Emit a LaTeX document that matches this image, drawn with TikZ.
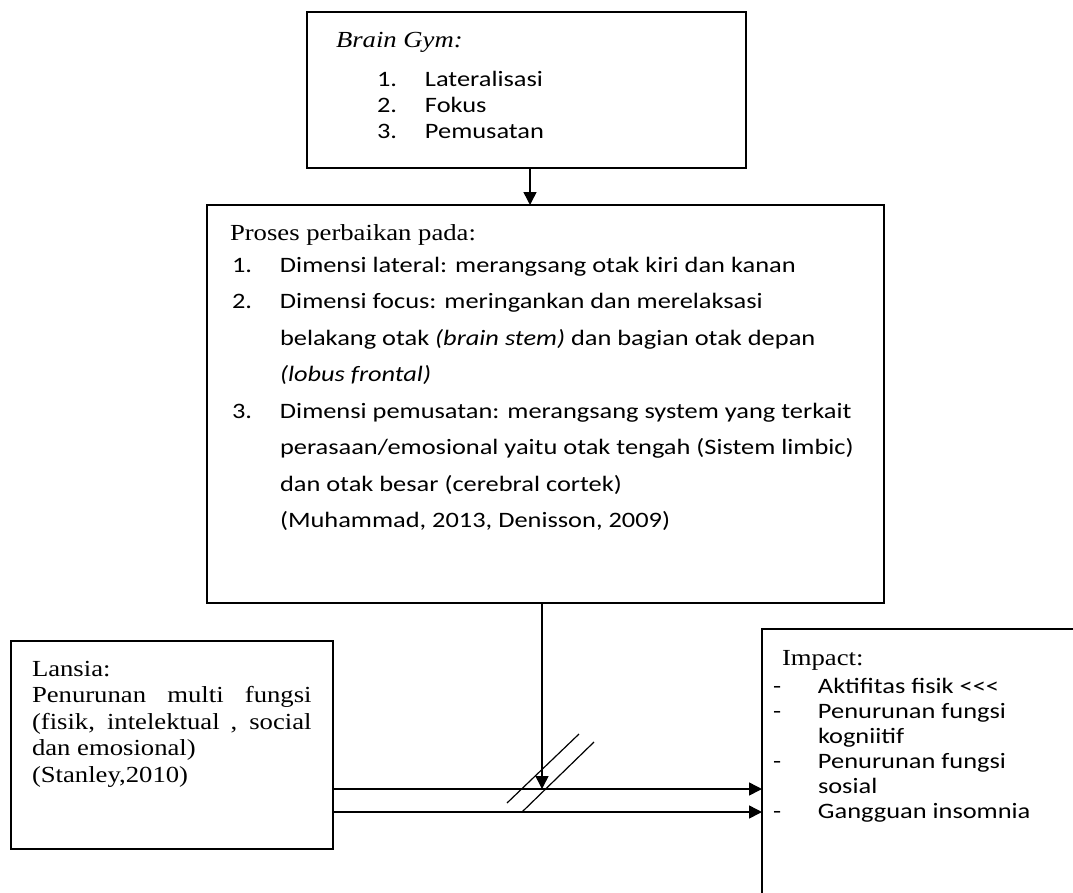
\documentclass[tikz,border=0pt]{standalone}
\usepackage{fontspec}
\usepackage{graphicx}
\setmainfont{Liberation Serif}
\newfontfamily\calib{Carlito}
\usetikzlibrary{arrows.meta}
\newcommand{\hsT}[1]{\scalebox{1.16}[1]{#1}}
\newcommand{\hsC}[1]{\scalebox{1.2}[1]{#1}}
\begin{document}
\begin{tikzpicture}[x=1pt,y=-1pt,
  box/.style={draw, line width=1.3pt, anchor=north west, inner sep=0pt, outer sep=0pt},
  txt/.style={anchor=base west, inner sep=0pt, outer sep=0pt},
  arr/.style={line width=1.5pt, -{Triangle[length=13pt,width=13pt]}},
  slash/.style={line width=1.2pt}]
\useasboundingbox (0,0) rectangle (1073,892);
\fill[white] (0,0) rectangle (1073,892);
\clip (0,0) rectangle (1073,892);

% top box
\node[box, minimum width=439pt, minimum height=156pt] (gym) at (307,12) {};
\node[txt] (gymtitle) at (336,47) {\hsT{\fontsize{23}{27}\selectfont\itshape Brain Gym:}};
\node[txt] (gymlist) at (377,86) {\hsC{\parbox[t]{250pt}{\calib\fontsize{22}{26}\selectfont
  \makebox[40pt][l]{1.}Lateralisasi\\
  \makebox[40pt][l]{2.}Fokus\\
  \makebox[40pt][l]{3.}Pemusatan}}};

% middle box
\node[box, minimum width=677pt, minimum height=398pt] (proc) at (207,205) {};
\node[txt] (proctitle) at (230,240) {\hsT{\fontsize{23}{27}\selectfont Proses perbaikan pada:}};
\node[txt] (proclist) at (232,272) {\hsC{\parbox[t]{560pt}{\calib\fontsize{22}{36.5}\selectfont
  \makebox[40pt][l]{1.}Dimensi lateral: merangsang otak kiri dan kanan\\
  \makebox[40pt][l]{2.}Dimensi focus: meringankan dan merelaksasi\\
  \hspace*{40pt}belakang otak \textit{(brain stem)} dan bagian otak depan\\
  \hspace*{40pt}\textit{(lobus frontal)}\\
  \makebox[40pt][l]{3.}Dimensi pemusatan: merangsang system yang terkait\\
  \hspace*{40pt}perasaan/emosional yaitu otak tengah (Sistem limbic)\\
  \hspace*{40pt}dan otak besar (cerebral cortek)\\
  \hspace*{40pt}(Muhammad, 2013, Denisson, 2009)}}};

% left box
\node[box, minimum width=322pt, minimum height=208pt] (lansia) at (11,641) {};
\node[txt] (lansiatext) at (32,676) {\hsT{\parbox[t]{241pt}{\fontsize{23}{26.5}\selectfont
  Lansia:\\
  \makebox[241pt][s]{Penurunan multi fungsi}\\
  \makebox[241pt][s]{(fisik, intelektual , social}\\
  dan emosional)\\
  (Stanley,2010)}}};

% right box
\node[box, minimum width=400pt, minimum height=400pt] (impact) at (762,629) {};
\node[txt] (impacttitle) at (782,665) {\hsT{\fontsize{23}{27}\selectfont Impact:}};
\node[txt] (impactlist) at (773,693) {\hsC{\parbox[t]{250pt}{\calib\fontsize{22}{25}\selectfont
  \makebox[37.5pt][l]{-}Aktifitas fisik <{}<{}<\\
  \makebox[37.5pt][l]{-}Penurunan fungsi\\
  \hspace*{37.5pt}kogniitif\\
  \makebox[37.5pt][l]{-}Penurunan fungsi\\
  \hspace*{37.5pt}sosial\\
  \makebox[37.5pt][l]{-}Gangguan insomnia}}};

% connectors
\coordinate (hit) at (542,789);
\coordinate (low) at (542,812);
\draw[arr] ([xshift=3.5pt]gym.south) -- ([xshift=3.5pt]gym.south |- proc.north);
\draw[arr] (proc.south -| hit) -- (hit);
\draw[arr] (lansia.east |- hit) -- (impact.west |- hit);
\draw[arr] (lansia.east |- low) -- (impact.west |- low);

% slash marks
\coordinate (s1a) at (507,803);
\coordinate (s1b) at (579,734);
\coordinate (s2a) at (522,812);
\coordinate (s2b) at (594,742);
\draw[slash] (s1a) -- (s1b);
\draw[slash] (s2a) -- (s2b);
\end{tikzpicture}
\end{document}
